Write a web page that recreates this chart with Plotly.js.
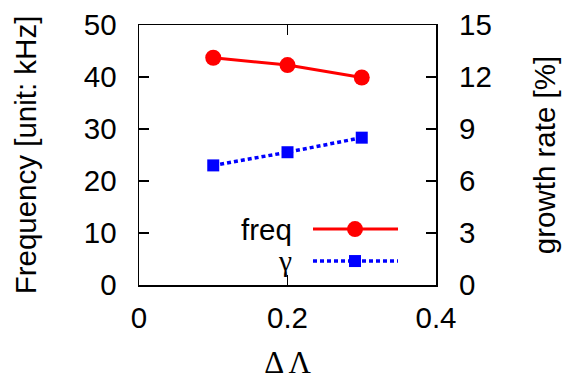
<!DOCTYPE html>
<html><head><meta charset="utf-8">
<script src="https://cdn.plot.ly/plotly-3.0.1.min.js"></script>
<style>html,body{margin:0;padding:0;background:#fff}#g{width:566px;height:382px}</style>
</head><body><div id="g"></div>
<script>
const dLambda = [0.1, 0.2, 0.3];
const freq = [43.7, 42.3, 39.9];
const gammaRate = [6.9, 7.66, 8.5];
const xTicks = [0, 0.2, 0.4];
const yTicks = [0, 10, 20, 30, 40, 50];
const y2Ticks = [0, 3, 6, 9, 12, 15];
const legendNames = ['freq', '<span style="font-family:Liberation Serif">γ</span>'];

const F = {family: 'Liberation Sans', size: 29.5, color: '#000'};
const traces = [
  {x: dLambda, y: freq, name: 'freq', type: 'scatter', mode: 'lines+markers',
   line: {color: '#ff0000', width: 3}, marker: {symbol: 'circle', size: 16, color: '#ff0000'}, yaxis: 'y'},
  {x: dLambda, y: gammaRate, name: 'γ', type: 'scatter', mode: 'lines+markers',
   line: {color: '#0000ff', width: 3.5, dash: '4px,3px'}, marker: {symbol: 'square', size: 12, color: '#0000ff'}, yaxis: 'y2'}
];
const pxX = p => (p - 139) / 297, pxY = p => (285 - p) / 260.5;
const rows = [229, 261];
const shapes = [
  {type: 'line', xref: 'paper', yref: 'paper', x0: pxX(313), x1: pxX(398), y0: pxY(rows[0]), y1: pxY(rows[0]), line: {color: '#ff0000', width: 3}},
  {type: 'circle', xref: 'paper', yref: 'paper', xsizemode: 'pixel', ysizemode: 'pixel', xanchor: pxX(355), yanchor: pxY(rows[0]), x0: -8, x1: 8, y0: -8, y1: 8, fillcolor: '#ff0000', line: {width: 0}},
  {type: 'line', xref: 'paper', yref: 'paper', x0: pxX(313), x1: pxX(398), y0: pxY(rows[1]), y1: pxY(rows[1]), line: {color: '#0000ff', width: 3.5, dash: '4px,3px'}},
  {type: 'rect', xref: 'paper', yref: 'paper', xsizemode: 'pixel', ysizemode: 'pixel', xanchor: pxX(355), yanchor: pxY(rows[1]), x0: -6, x1: 6, y0: -6, y1: 6, fillcolor: '#0000ff', line: {width: 0}}
];
const annotations = legendNames.map((n, i) => ({
  text: n, xref: 'paper', yref: 'paper', x: pxX(294), y: pxY(rows[i]), xanchor: 'right', yanchor: 'middle', showarrow: false, font: F
}));
const layout = {
  width: 566, height: 382, margin: {l: 139, r: 130, t: 24.5, b: 97},
  paper_bgcolor: '#fff', plot_bgcolor: '#fff', showlegend: false, font: F,
  xaxis: {range: [0, 0.4], tickvals: xTicks, ticktext: xTicks.map(String), ticks: 'inside', ticklen: 10, tickwidth: 1.5, tickcolor: '#000',
    showline: true, linecolor: '#000', linewidth: 1.5, mirror: 'ticks', showgrid: false, zeroline: false, ticklabelstandoff: 6,
    title: {text: 'Δ Λ', font: {family: 'Liberation Serif', size: 31, color: '#000'}, standoff: 18}},
  yaxis: {range: [0, 50], tickvals: yTicks, ticks: 'inside', ticklen: 10, tickwidth: 1.5, tickcolor: '#000',
    showline: true, linecolor: '#000', linewidth: 1.5, mirror: 'ticks', showgrid: false, zeroline: false, ticklabelstandoff: 15,
    title: {text: 'Frequency [unit: kHz]', font: F, standoff: 38}},
  yaxis2: {range: [0, 15], tickvals: y2Ticks, overlaying: 'y', side: 'right', ticks: '', showline: false, showgrid: false, zeroline: false,
    ticklabelstandoff: 22, title: {text: 'growth rate [%]', font: F, standoff: 43}},
  shapes: shapes, annotations: annotations
};
Plotly.newPlot('g', traces, layout, {staticPlot: true, displayModeBar: false});
</script></body></html>
